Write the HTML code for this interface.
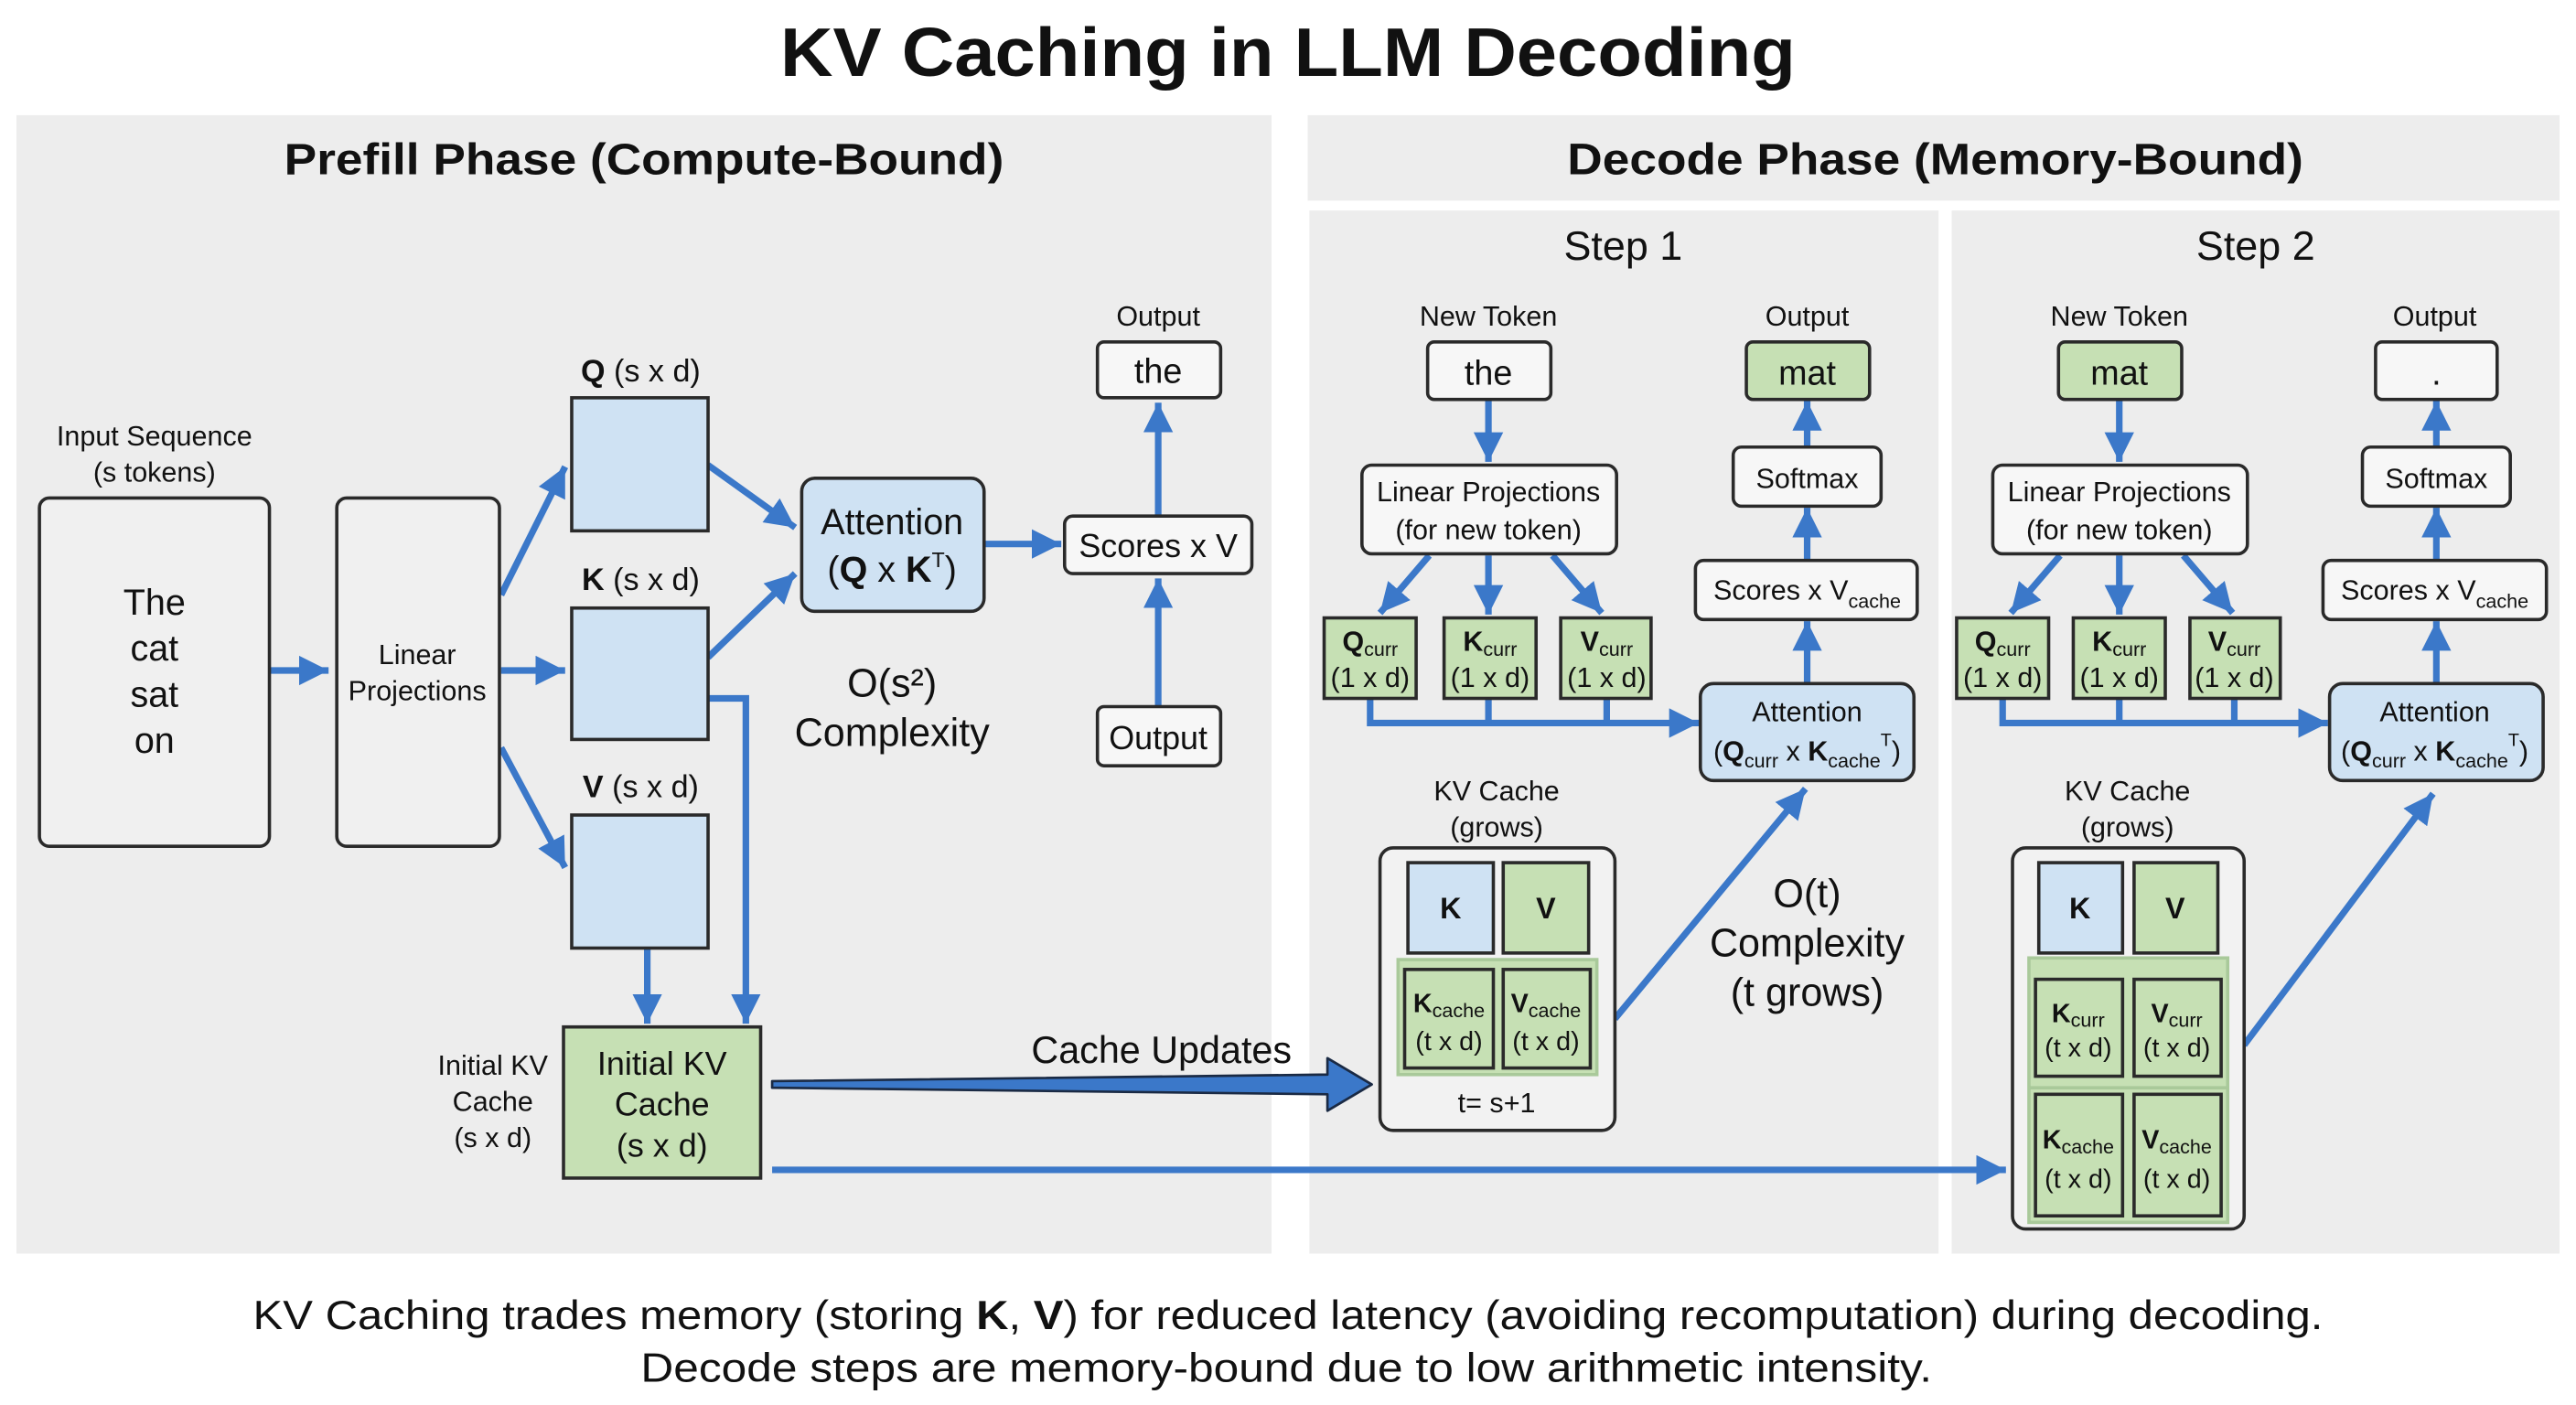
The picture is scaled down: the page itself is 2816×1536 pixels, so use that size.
<!DOCTYPE html>
<html><head><meta charset="utf-8"><style>
html,body{margin:0;padding:0;background:#fff}
svg{display:block}
text{font-family:"Liberation Sans",Arial,sans-serif;fill:#111}
</style></head><body>
<svg width="2816" height="1536" viewBox="0 0 1568 855" xmlns="http://www.w3.org/2000/svg">
<defs>
<marker id="a" markerUnits="userSpaceOnUse" markerWidth="22" markerHeight="22" refX="18" refY="9" orient="auto">
<path d="M0,0 L18,9 L0,18 Z" fill="#3b78c9"/>
</marker>
</defs>
<rect width="1568" height="855" fill="#fff"/>
<text x="784" y="46" font-size="42" font-weight="bold" text-anchor="middle" textLength="618" lengthAdjust="spacingAndGlyphs">KV Caching in LLM Decoding</text>

<!-- panels -->
<rect x="10" y="70" width="764" height="693" fill="#ededed"/>
<rect x="796" y="70" width="762" height="52" fill="#ededed"/>
<rect x="797" y="128" width="383" height="635" fill="#ededed"/>
<rect x="1188" y="128" width="370" height="635" fill="#ededed"/>
<text x="392" y="106" font-size="27" font-weight="bold" text-anchor="middle" textLength="438" lengthAdjust="spacingAndGlyphs">Prefill Phase (Compute-Bound)</text>
<text x="1178" y="106" font-size="27" font-weight="bold" text-anchor="middle" textLength="448" lengthAdjust="spacingAndGlyphs">Decode Phase (Memory-Bound)</text>
<text x="988" y="158" font-size="25" text-anchor="middle">Step 1</text>
<text x="1373" y="158" font-size="25" text-anchor="middle">Step 2</text>

<g stroke="#3b78c9" stroke-width="4" fill="none">
<!-- prefill arrows -->
<line x1="164" y1="408" x2="200" y2="408" marker-end="url(#a)"/>
<line x1="305" y1="362" x2="344" y2="284" marker-end="url(#a)"/>
<line x1="305" y1="408" x2="344" y2="408" marker-end="url(#a)"/>
<line x1="305" y1="455" x2="344" y2="528" marker-end="url(#a)"/>
<line x1="431" y1="283" x2="484" y2="321" marker-end="url(#a)"/>
<line x1="431" y1="400" x2="484" y2="349" marker-end="url(#a)"/>
<line x1="599" y1="331" x2="646" y2="331" marker-end="url(#a)"/>
<line x1="705" y1="314" x2="705" y2="245" marker-end="url(#a)"/>
<line x1="705" y1="430" x2="705" y2="352" marker-end="url(#a)"/>
<line x1="394" y1="577" x2="394" y2="623" marker-end="url(#a)"/>
<polyline points="431,425 454,425 454,623" marker-end="url(#a)"/>
<line x1="470" y1="712" x2="1221" y2="712" marker-end="url(#a)"/>
<!-- step1 -->
<line x1="906" y1="243" x2="906" y2="281" marker-end="url(#a)"/>
<line x1="870" y1="338" x2="840" y2="373" marker-end="url(#a)"/>
<line x1="906" y1="338" x2="906" y2="374" marker-end="url(#a)"/>
<line x1="945" y1="338" x2="975" y2="373" marker-end="url(#a)"/>
<polyline points="834,425 834,440 1034,440" marker-end="url(#a)"/>
<line x1="906" y1="425" x2="906" y2="440"/>
<line x1="978" y1="425" x2="978" y2="440"/>
<line x1="1100" y1="416" x2="1100" y2="378" marker-end="url(#a)"/>
<line x1="1100" y1="341" x2="1100" y2="309" marker-end="url(#a)"/>
<line x1="1100" y1="272" x2="1100" y2="244" marker-end="url(#a)"/>
<line x1="983" y1="620" x2="1099" y2="480" marker-end="url(#a)"/>
<!-- step2 -->
<line x1="1290" y1="243" x2="1290" y2="281" marker-end="url(#a)"/>
<line x1="1254" y1="338" x2="1224" y2="373" marker-end="url(#a)"/>
<line x1="1290" y1="338" x2="1290" y2="374" marker-end="url(#a)"/>
<line x1="1329" y1="338" x2="1359" y2="373" marker-end="url(#a)"/>
<polyline points="1219,425 1219,440 1417,440" marker-end="url(#a)"/>
<line x1="1290" y1="425" x2="1290" y2="440"/>
<line x1="1360" y1="425" x2="1360" y2="440"/>
<line x1="1483" y1="416" x2="1483" y2="378" marker-end="url(#a)"/>
<line x1="1483" y1="341" x2="1483" y2="309" marker-end="url(#a)"/>
<line x1="1483" y1="272" x2="1483" y2="244" marker-end="url(#a)"/>
<line x1="1366" y1="636" x2="1481" y2="483" marker-end="url(#a)"/>
</g>
<!-- Cache updates arrow -->
<polygon points="470,658 808,654 808,644 835,660 808,676 808,666 470,662" fill="#3b78c9" stroke="#1a2a44" stroke-width="1.5" stroke-linejoin="round"/>
<text x="707" y="647" font-size="23" text-anchor="middle">Cache Updates</text>

<!-- prefill boxes -->
<g stroke="#2a2a2a" stroke-width="2">
<rect x="24" y="303" width="140" height="212" rx="6" fill="#f0f0f0"/>
<rect x="205" y="303" width="99" height="212" rx="6" fill="#f0f0f0"/>
<rect x="348" y="242" width="83" height="81" fill="#cfe2f3"/>
<rect x="348" y="370" width="83" height="80" fill="#cfe2f3"/>
<rect x="348" y="496" width="83" height="81" fill="#cfe2f3"/>
<rect x="488" y="291" width="111" height="81" rx="8" fill="#cfe2f3"/>
<rect x="648" y="314" width="114" height="35" rx="5" fill="#f7f7f7"/>
<rect x="668" y="208" width="75" height="34" rx="4" fill="#f7f7f7"/>
<rect x="668" y="430" width="75" height="36" rx="4" fill="#f7f7f7"/>
<rect x="343" y="625" width="120" height="92" fill="#c6e0b4"/>
</g>
<text x="94" y="271" font-size="17" text-anchor="middle">Input Sequence</text>
<text x="94" y="293" font-size="17" text-anchor="middle">(s tokens)</text>
<g font-size="22" text-anchor="middle">
<text x="94" y="374">The</text><text x="94" y="402">cat</text><text x="94" y="430">sat</text><text x="94" y="458">on</text>
</g>
<text x="254" y="404" font-size="17" text-anchor="middle">Linear</text>
<text x="254" y="426" font-size="17" text-anchor="middle">Projections</text>
<text x="390" y="232" font-size="19" text-anchor="middle"><tspan font-weight="bold">Q</tspan> (s x d)</text>
<text x="390" y="359" font-size="19" text-anchor="middle"><tspan font-weight="bold">K</tspan> (s x d)</text>
<text x="390" y="485" font-size="19" text-anchor="middle"><tspan font-weight="bold">V</tspan> (s x d)</text>
<text x="543" y="325" font-size="22" text-anchor="middle">Attention</text>
<text x="543" y="354" font-size="22" text-anchor="middle">(<tspan font-weight="bold">Q</tspan> x <tspan font-weight="bold">K</tspan><tspan font-size="13" dy="-9">T</tspan><tspan dy="9">)</tspan></text>
<text x="705" y="339" font-size="20" text-anchor="middle">Scores x V</text>
<text x="705" y="198" font-size="17" text-anchor="middle">Output</text>
<text x="705" y="233" font-size="21" text-anchor="middle">the</text>
<text x="705" y="456" font-size="20" text-anchor="middle">Output</text>
<text x="543" y="424" font-size="24" text-anchor="middle">O(s²)</text>
<text x="543" y="454" font-size="24" text-anchor="middle">Complexity</text>
<g font-size="20" text-anchor="middle">
<text x="403" y="654">Initial KV</text><text x="403" y="679">Cache</text><text x="403" y="704">(s x d)</text>
</g>
<g font-size="17" text-anchor="middle">
<text x="300" y="654">Initial KV</text><text x="300" y="676">Cache</text><text x="300" y="698">(s x d)</text>
</g>

<!-- decode steps -->
<g stroke="#2a2a2a" stroke-width="2">
<!-- step1 -->
<rect x="869" y="208" width="75" height="35" rx="4" fill="#f7f7f7"/>
<rect x="829" y="283" width="155" height="54" rx="6" fill="#f7f7f7"/>
<rect x="806" y="376" width="56" height="49" fill="#c6e0b4"/>
<rect x="879" y="376" width="56" height="49" fill="#c6e0b4"/>
<rect x="950" y="376" width="55" height="49" fill="#c6e0b4"/>
<rect x="1035" y="416" width="130" height="59" rx="8" fill="#cfe2f3"/>
<rect x="1032" y="341" width="135" height="36" rx="5" fill="#f7f7f7"/>
<rect x="1055" y="272" width="90" height="36" rx="5" fill="#f7f7f7"/>
<rect x="1063" y="208" width="75" height="35" rx="4" fill="#c6e0b4"/>
<rect x="840" y="516" width="143" height="172" rx="8" fill="#f2f2f2"/>
<rect x="857" y="525" width="52" height="55" fill="#cfe2f3"/>
<rect x="915" y="525" width="52" height="55" fill="#c6e0b4"/>
<rect x="851" y="584" width="121" height="70" fill="#c6e0b4" stroke="#a9c99a"/>
<rect x="855" y="590" width="54" height="60" fill="#c6e0b4"/>
<rect x="915" y="590" width="53" height="60" fill="#c6e0b4"/>
<!-- step2 -->
<rect x="1253" y="208" width="75" height="35" rx="4" fill="#c6e0b4"/>
<rect x="1213" y="283" width="155" height="54" rx="6" fill="#f7f7f7"/>
<rect x="1191" y="376" width="56" height="49" fill="#c6e0b4"/>
<rect x="1262" y="376" width="56" height="49" fill="#c6e0b4"/>
<rect x="1333" y="376" width="55" height="49" fill="#c6e0b4"/>
<rect x="1418" y="416" width="130" height="59" rx="8" fill="#cfe2f3"/>
<rect x="1414" y="341" width="136" height="36" rx="5" fill="#f7f7f7"/>
<rect x="1438" y="272" width="90" height="36" rx="5" fill="#f7f7f7"/>
<rect x="1446" y="208" width="74" height="35" rx="4" fill="#f7f7f7"/>
<rect x="1225" y="516" width="141" height="232" rx="8" fill="#f2f2f2"/>
<rect x="1241" y="525" width="51" height="55" fill="#cfe2f3"/>
<rect x="1299" y="525" width="51" height="55" fill="#c6e0b4"/>
<rect x="1235" y="583" width="121" height="161" fill="#c6e0b4" stroke="#a9c99a"/>
<line x1="1235" y1="662" x2="1356" y2="662" stroke="#a9c99a"/>
<rect x="1239" y="596" width="53" height="59" fill="#c6e0b4"/>
<rect x="1299" y="596" width="53" height="59" fill="#c6e0b4"/>
<rect x="1239" y="666" width="53" height="74" fill="#c6e0b4"/>
<rect x="1299" y="666" width="53" height="74" fill="#c6e0b4"/>
</g>

<g id="s1">
<text x="906" y="198" font-size="17" text-anchor="middle">New Token</text>
<text x="906" y="234" font-size="21" text-anchor="middle">the</text>
<text x="1100" y="198" font-size="17" text-anchor="middle">Output</text>
<text x="1100" y="234" font-size="21" text-anchor="middle">mat</text>
</g>
<text x="1290" y="198" font-size="17" text-anchor="middle">New Token</text>
<text x="1290" y="234" font-size="21" text-anchor="middle">mat</text>
<text x="1482" y="198" font-size="17" text-anchor="middle">Output</text>
<text x="1483" y="234" font-size="21" text-anchor="middle">.</text>

<g font-size="17" text-anchor="middle">
<text x="906" y="305">Linear Projections</text><text x="906" y="328">(for new token)</text>
<text x="1290" y="305">Linear Projections</text><text x="1290" y="328">(for new token)</text>
<text x="1100" y="297">Softmax</text><text x="1483" y="297">Softmax</text>
<text x="1100" y="365">Scores x V<tspan font-size="12" dy="5">cache</tspan></text>
<text x="1482" y="365">Scores x V<tspan font-size="12" dy="5">cache</tspan></text>
<text x="1100" y="439">Attention</text><text x="1482" y="439">Attention</text>
<text x="1100" y="463">(<tspan font-weight="bold">Q</tspan><tspan font-size="12" dy="4">curr</tspan><tspan dy="-4"> x </tspan><tspan font-weight="bold">K</tspan><tspan font-size="12" dy="4">cache</tspan><tspan font-size="11" dy="-13">T</tspan><tspan dy="9">)</tspan></text>
<text x="1482" y="463">(<tspan font-weight="bold">Q</tspan><tspan font-size="12" dy="4">curr</tspan><tspan dy="-4"> x </tspan><tspan font-weight="bold">K</tspan><tspan font-size="12" dy="4">cache</tspan><tspan font-size="11" dy="-13">T</tspan><tspan dy="9">)</tspan></text>
<text x="911" y="487">KV Cache</text><text x="911" y="509">(grows)</text>
<text x="1295" y="487">KV Cache</text><text x="1295" y="509">(grows)</text>
<text x="911" y="677">t= s+1</text>
</g>

<g font-size="17" text-anchor="middle">
<text x="834" y="396"><tspan font-weight="bold">Q</tspan><tspan font-size="12" dy="3">curr</tspan></text><text x="834" y="418">(1 x d)</text>
<text x="907" y="396"><tspan font-weight="bold">K</tspan><tspan font-size="12" dy="3">curr</tspan></text><text x="907" y="418">(1 x d)</text>
<text x="978" y="396"><tspan font-weight="bold">V</tspan><tspan font-size="12" dy="3">curr</tspan></text><text x="978" y="418">(1 x d)</text>
<text x="1219" y="396"><tspan font-weight="bold">Q</tspan><tspan font-size="12" dy="3">curr</tspan></text><text x="1219" y="418">(1 x d)</text>
<text x="1290" y="396"><tspan font-weight="bold">K</tspan><tspan font-size="12" dy="3">curr</tspan></text><text x="1290" y="418">(1 x d)</text>
<text x="1360" y="396"><tspan font-weight="bold">V</tspan><tspan font-size="12" dy="3">curr</tspan></text><text x="1360" y="418">(1 x d)</text>
</g>
<g font-size="18" font-weight="bold" text-anchor="middle">
<text x="883" y="559">K</text><text x="941" y="559">V</text>
<text x="1266" y="559">K</text><text x="1324" y="559">V</text>
</g>
<g font-size="16" text-anchor="middle">
<text x="882" y="616"><tspan font-weight="bold">K</tspan><tspan font-size="12" dy="3">cache</tspan></text><text x="882" y="639">(t x d)</text>
<text x="941" y="616"><tspan font-weight="bold">V</tspan><tspan font-size="12" dy="3">cache</tspan></text><text x="941" y="639">(t x d)</text>
<text x="1265" y="622"><tspan font-weight="bold">K</tspan><tspan font-size="12" dy="3">curr</tspan></text><text x="1265" y="643">(t x d)</text>
<text x="1325" y="622"><tspan font-weight="bold">V</tspan><tspan font-size="12" dy="3">curr</tspan></text><text x="1325" y="643">(t x d)</text>
<text x="1265" y="699"><tspan font-weight="bold">K</tspan><tspan font-size="12" dy="3">cache</tspan></text><text x="1265" y="723">(t x d)</text>
<text x="1325" y="699"><tspan font-weight="bold">V</tspan><tspan font-size="12" dy="3">cache</tspan></text><text x="1325" y="723">(t x d)</text>
</g>
<g font-size="24" text-anchor="middle">
<text x="1100" y="552">O(t)</text><text x="1100" y="582">Complexity</text><text x="1100" y="612">(t grows)</text>
</g>

<text x="784" y="809" font-size="25" text-anchor="middle" textLength="1260" lengthAdjust="spacingAndGlyphs">KV Caching trades memory (storing <tspan font-weight="bold">K</tspan>, <tspan font-weight="bold">V</tspan>) for reduced latency (avoiding recomputation) during decoding.</text>
<text x="783" y="841" font-size="25" text-anchor="middle" textLength="786" lengthAdjust="spacingAndGlyphs">Decode steps are memory-bound due to low arithmetic intensity.</text>
</svg>
</body></html>
